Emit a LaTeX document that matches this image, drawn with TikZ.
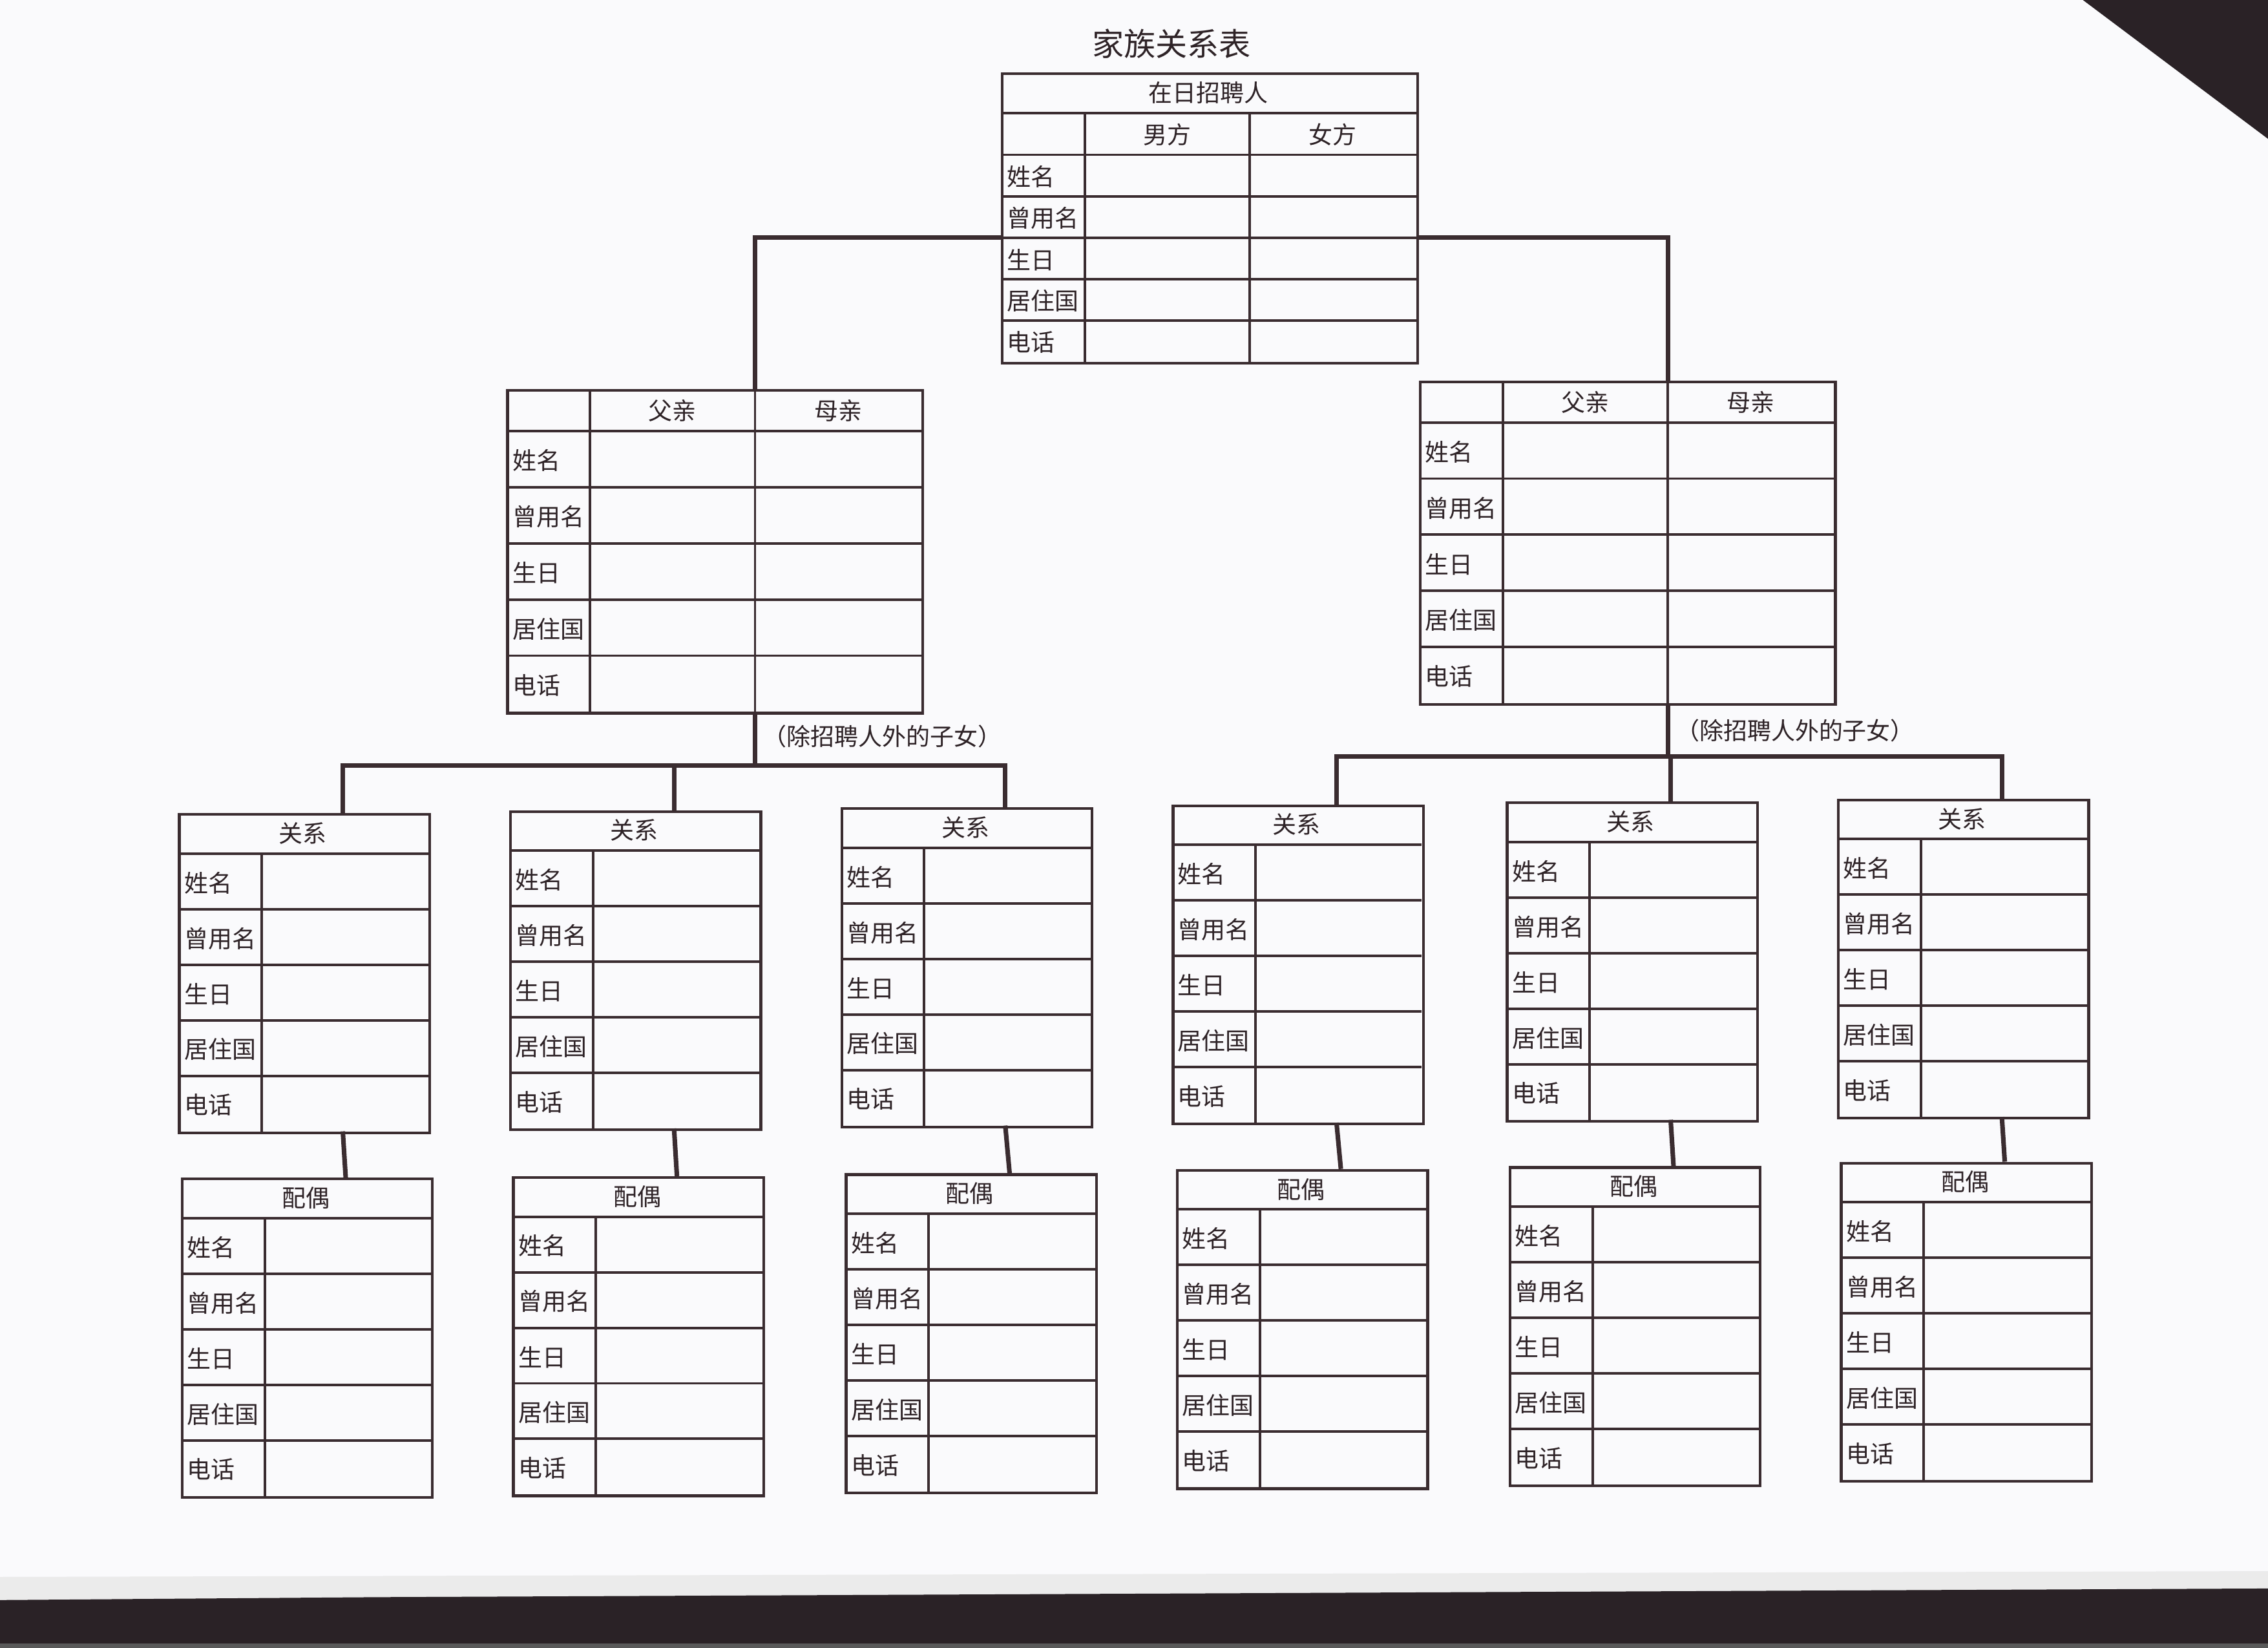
\documentclass[tikz,border=0pt]{standalone}
\usepackage{fontspec}
\setmainfont{Noto Sans CJK SC}
\definecolor{ink}{RGB}{58,44,48}
\definecolor{paper}{RGB}{250,250,252}
\definecolor{scanbg}{RGB}{42,34,38}
\tikzset{
  frame/.style={draw=ink, line width=1.1pt, inner sep=0pt, anchor=north west},
  rule/.style={draw=ink, line width=1pt},
  link/.style={draw=ink, line width=1.8pt},
  txt/.style={text=ink!80!black, inner sep=0pt, font=\fontsize{9.4pt}{11pt}\selectfont},
  lbl/.style={txt, anchor=west},
  ttl/.style={text=ink!80!black, inner sep=0pt, font=\fontsize{12.5pt}{15pt}\selectfont},
}
% parents table: name, x, y
\newcommand{\parenttab}[3]{%
  \begin{scope}[shift={(#2,#3)}]
    \node[frame, minimum width=57.4mm, minimum height=44.6mm] (#1) at (0,0) {};
    \foreach \r in {0,...,4} \draw[rule] (0,29+38.8*\r) -- (287,29+38.8*\r);
    \draw[rule] (58,0) -- (58,223) (172,0) -- (172,223);
    \node[txt] (#1-fa) at (115,15) {父亲};
    \node[txt] (#1-mo) at (229.5,15) {母亲};
    \foreach \lab [count=\i] in {姓名,曾用名,生日,居住国,电话}
      \node[lbl] (#1-l\i) at (4,29+38.8*\i-18.4) {\lab};
    \coordinate (#1-t) at (172,0);
    \coordinate (#1-b) at (172,223);
  \end{scope}}
% child / spouse table: name, x, y, heading
\newcommand{\childtab}[4]{%
  \begin{scope}[shift={(#2,#3)}]
    \node[frame, minimum width=34.6mm, minimum height=44mm] (#1) at (0,0) {};
    \foreach \r in {0,...,4} \draw[rule] (0,28+38.4*\r) -- (173,28+38.4*\r);
    \draw[rule] (58,28) -- (58,220);
    \node[txt] (#1-h) at (86.5,14) {#4};
    \foreach \lab [count=\i] in {姓名,曾用名,生日,居住国,电话}
      \node[lbl] (#1-l\i) at (4,28+38.4*\i-18.2) {\lab};
    \coordinate (#1-t) at (114,0);
    \coordinate (#1-b) at (114,220);
  \end{scope}}

\begin{document}
\begin{tikzpicture}[x=0.2mm, y=-0.2mm]
  \useasboundingbox (0,0) rectangle (1568,1139);
  % scanned sheet
  \fill[paper] (0,0) rectangle (1568,1139);
  \fill[scanbg] (1440,0) -- (1568,0) -- (1568,96) -- cycle;
  \fill[black!8] (0,1090) -- (1568,1086) -- (1568,1100) -- (0,1106) -- cycle;
  \fill[scanbg] (0,1106) -- (260,1104) -- (700,1102) -- (1568,1098) -- (1568,1139) -- (0,1139) -- cycle;
  \fill[black!65] (0,1136) rectangle (1568,1139);

  \node[ttl] (title) at (810,30) {家族关系表};

  % applicant
  \begin{scope}[shift={(692,50)}]
    \node[frame, minimum width=57.4mm, minimum height=40mm] (ta) at (0,0) {};
    \draw[rule] (0,28) -- (287,28);
    \foreach \r in {0,...,4} \draw[rule] (0,57+28.6*\r) -- (287,57+28.6*\r);
    \draw[rule] (58,28) -- (58,200) (172,28) -- (172,200);
    \node[txt] (ta-h) at (143.5,14) {在日招聘人};
    \node[txt] (ta-m) at (115,43) {男方};
    \node[txt] (ta-f) at (229.5,43) {女方};
    \foreach \lab [count=\i] in {姓名,曾用名,生日,居住国,电话}
      \node[lbl] (ta-l\i) at (4,57+28.6*\i-13.3) {\lab};
    \coordinate (ta-w) at (0,114.2);
    \coordinate (ta-e) at (287,114.2);
  \end{scope}

  \parenttab{lp}{350}{269}
  \parenttab{rp}{981}{263}

  \childtab{c1}{123}{562}{关系}
  \childtab{c2}{352}{560}{关系}
  \childtab{c3}{581}{558}{关系}
  \childtab{c4}{810}{556}{关系}
  \childtab{c5}{1041}{554}{关系}
  \childtab{c6}{1270}{552}{关系}
  \childtab{s1}{125}{814}{配偶}
  \childtab{s2}{354}{813}{配偶}
  \childtab{s3}{584}{811}{配偶}
  \childtab{s4}{813}{808}{配偶}
  \childtab{s5}{1043}{806}{配偶}
  \childtab{s6}{1272}{803}{配偶}

  % links
  \draw[link] (ta-w) -| (lp-t);
  \draw[link] (ta-e) -| (rp-t);

  \coordinate (lbus) at (522,529);
  \coordinate (rbus) at (1153,523);
  \draw[link] (lp-b) -- (lbus);
  \draw[link] (c1-t) |- (lbus) -| (c3-t);
  \draw[link] (c2-t) -- (c2-t |- lbus);
  \draw[link] (rp-b) -- (rbus);
  \draw[link] (c4-t) |- (rbus) -| (c6-t);
  \draw[link] (c5-t) -- (c5-t |- rbus);
  \foreach \k in {1,...,6} \draw[link] (c\k-b) -- (s\k-t);

  \node[txt] (lnote) at (610,509) {（除招聘人外的子女）};
  \node[txt] (rnote) at (1241,505) {（除招聘人外的子女）};
\end{tikzpicture}
\end{document}
